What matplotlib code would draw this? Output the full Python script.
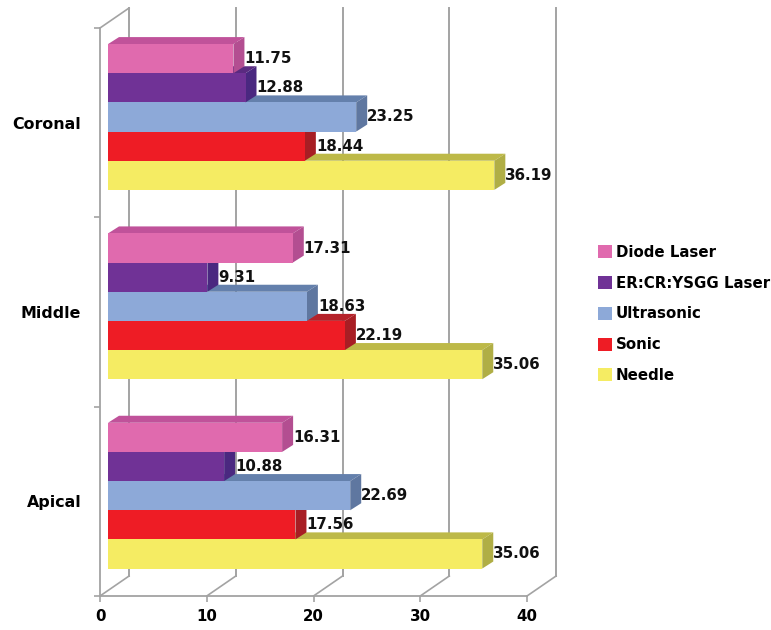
import matplotlib as mpl
mpl.use('Agg')
import matplotlib.pyplot as plt
from matplotlib.patches import Polygon, Patch

plt.rcParams['font.family'] = ['DejaVu Sans']

regions = ['Apical', 'Middle', 'Coronal']
methods = ['Needle', 'Sonic', 'Ultrasonic', 'ER:CR:YSGG Laser', 'Diode Laser']

needle = [35.06, 35.06, 36.19]
sonic = [17.56, 22.19, 18.44]
ultrasonic = [22.69, 18.63, 23.25]
er_laser = [10.88, 9.31, 12.88]
diode = [16.31, 17.31, 11.75]
values = [needle, sonic, ultrasonic, er_laser, diode]

front_cols = ['#F5EC63', '#EE1C25', '#8DA9D8', '#703296', '#E06AAE']
top_cols = ['#BDB948', '#B5222A', '#6480AC', '#5A2A80', '#C0529A']
side_cols = ['#B0AE45', '#A81E24', '#5F77A0', '#4A2880', '#B34E91']

GREY = '#A3A3A3'
FS = 10.8

# pseudo 3d depth of the plot box, in data units
depth_x = 2.72
depth_y = 0.1055
# bars sit partway into the box
bar_dx = 0.75
bar_dy = 0.03
bar_depth_x = 1.03
bar_depth_y = 0.037
bar_h = 0.154
gap = 0.115


def Bar3D(ax, val, y0, front, top, side):
    x0 = bar_dx
    x1 = bar_dx + val
    y1 = y0 + bar_h
    ddx = bar_depth_x
    ddy = bar_depth_y
    ax.add_patch(Polygon([(x0, y1), (x1, y1), (x1+ddx, y1+ddy), (x0+ddx, y1+ddy)], fc=top, ec='none', zorder=3))
    ax.add_patch(Polygon([(x1, y0), (x1+ddx, y0+ddy), (x1+ddx, y1+ddy), (x1, y1)], fc=side, ec='none', zorder=3))
    ax.add_patch(Polygon([(x0, y0), (x1, y0), (x1, y1), (x0, y1)], fc=front, ec='none', zorder=3))


fig = plt.figure(figsize=(7.71, 6.30), dpi=100)
ax = fig.add_axes([100/771, 34/630, 427/771, 568/630])
ax.set_xlim(0, 40)
ax.set_ylim(0, 3)

for s in ['top', 'right']:
    ax.spines[s].set_visible(False)
for s in ['left', 'bottom']:
    ax.spines[s].set_color(GREY)
    ax.spines[s].set_linewidth(1.3)

ax.set_xticks([0, 10, 20, 30, 40])
ax.set_yticks([0, 1, 2, 3])
ax.set_yticklabels([])
ax.set_yticks([0.50, 1.50, 2.50], minor=True)
ax.set_yticklabels(regions, minor=True, fontsize=11.4, fontweight='bold')
ax.tick_params(axis='y', which='minor', length=0, pad=13.5)
ax.tick_params(axis='both', which='major', color=GREY, width=1.2, length=4.5)
ax.tick_params(axis='x', labelsize=FS, pad=5)
for t in ax.get_xticklabels():
    t.set_fontweight('bold')

# back wall and floor lines
for t in [0, 10, 20, 30, 40]:
    ax.plot([t+depth_x, t+depth_x], [depth_y, 3+depth_y], color=GREY, lw=1.4, clip_on=False, zorder=1)
    ax.plot([t, t+depth_x], [0, depth_y], color=GREY, lw=1.2, clip_on=False, zorder=1)
ax.plot([0, depth_x], [3, 3+depth_y], color=GREY, lw=1.2, clip_on=False, zorder=1)

for i in range(len(regions)):
    for j in range(len(methods)):
        y0 = i + gap + bar_dy + j*bar_h
        val = values[j][i]
        Bar3D(ax, val, y0, front_cols[j], top_cols[j], side_cols[j])
        ax.annotate('%.2f' % val, xy=(bar_dx+val+bar_depth_x, y0+bar_h/2), xytext=(0, 0),
                    textcoords='offset points', fontsize=FS, fontweight='bold',
                    color='#111111', va='center', ha='left', zorder=5, annotation_clip=False)

handles = [Patch(fc=front_cols[j], ec='none', label=methods[j]) for j in range(len(methods))][::-1]
fig.legend(handles=handles, loc='center left', bbox_to_anchor=(598/771, 1-314/630), frameon=False,
           handlelength=0.95, handleheight=0.95, handletextpad=0.25, labelspacing=1.05,
           borderpad=0, borderaxespad=0,
           prop={'size': FS, 'weight': 'bold'})

fig.savefig('out.png', dpi=100)
